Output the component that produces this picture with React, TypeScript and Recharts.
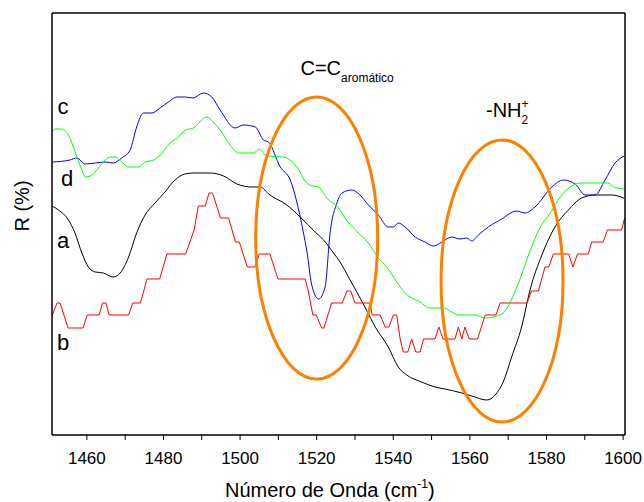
import { LineChart, Line, XAxis, YAxis, ReferenceDot } from "recharts";

// wavenumber (cm-1) and reflectance in arbitrary units
type Pt = { x: number; y: number };
const pts = (arr: number[][]): Pt[] => arr.map(([x, y]) => ({ x, y }));

const seriesA = pts([
  [1450.9, 229], [1452.6, 225], [1455.2, 215], [1456.9, 202], [1458.7, 182], [1460.4, 168],
  [1462.2, 163], [1464.3, 162], [1466.9, 158], [1468.7, 162], [1470.9, 178], [1473.0, 202],
  [1475.2, 220], [1477.8, 232], [1480.4, 243], [1483.0, 255], [1485.6, 261], [1487.8, 262],
  [1492.2, 262], [1495.7, 259], [1499.2, 251], [1503.1, 248], [1505.2, 248], [1507.8, 240],
  [1512.2, 230], [1515.7, 218], [1519.6, 203], [1521.8, 195], [1524.4, 182], [1526.1, 173],
  [1528.3, 158], [1532.6, 128], [1535.3, 108], [1538.7, 88], [1541.3, 68], [1543.5, 60],
  [1547.4, 53], [1550.9, 48], [1553.5, 46], [1557.9, 42], [1560.5, 39], [1564.4, 35],
  [1566.6, 40], [1568.7, 53], [1570.9, 78], [1573.5, 108], [1575.7, 145], [1578.8, 180],
  [1582.2, 208], [1585.7, 225], [1589.2, 237], [1592.7, 240], [1597.0, 240], [1600.2, 237],
]);

const seriesB = pts([
  [1451.0, 120], [1452.2, 132], [1453.0, 132], [1455.1, 107], [1459.0, 107], [1460.1, 120],
  [1463.2, 120], [1464.1, 132], [1465.0, 132], [1465.8, 120], [1470.9, 120], [1472.0, 132],
  [1474.0, 132], [1475.7, 156], [1479.0, 156], [1480.9, 181], [1485.8, 181], [1488.0, 205],
  [1489.1, 229], [1490.9, 229], [1491.9, 242], [1492.8, 242], [1494.9, 217], [1497.0, 217],
  [1498.8, 193], [1499.8, 193], [1501.9, 168], [1503.9, 168], [1505.0, 181], [1507.8, 181],
  [1509.9, 156], [1517.0, 156], [1517.8, 144], [1519.0, 120], [1519.9, 120], [1521.3, 107],
  [1521.9, 107], [1523.9, 132], [1526.7, 132], [1527.9, 144], [1528.9, 144], [1530.0, 132],
  [1533.9, 132], [1534.5, 120], [1536.6, 120], [1537.9, 108], [1538.9, 108], [1540.0, 120],
  [1540.9, 120], [1541.8, 96], [1542.6, 83], [1543.8, 83], [1544.8, 96], [1545.9, 83],
  [1547.0, 83], [1547.9, 96], [1550.9, 96], [1551.9, 108], [1553.0, 96], [1556.1, 96],
  [1557.0, 108], [1557.9, 96], [1558.7, 108], [1559.8, 96], [1562.0, 96], [1564.0, 120],
  [1566.8, 120], [1567.9, 132], [1574.9, 132], [1576.1, 144], [1577.9, 144], [1579.6, 168],
  [1580.6, 168], [1581.8, 181], [1585.8, 181], [1586.9, 168], [1588.1, 181], [1590.9, 181],
  [1591.8, 193], [1594.8, 193], [1595.9, 205], [1599.6, 205], [1600.4, 217],
]);

const seriesC = pts([
  [1451.0, 273], [1455.6, 275], [1457.4, 277], [1459.6, 271], [1462.2, 272], [1464.8, 273],
  [1466.9, 272], [1469.1, 277], [1471.3, 285], [1473.0, 308], [1474.8, 322], [1477.0, 322],
  [1479.1, 327], [1481.3, 333], [1483.5, 338], [1485.7, 338], [1487.7, 337], [1490.4, 342],
  [1492.6, 338], [1494.8, 325], [1498.7, 307], [1500.8, 310], [1504.0, 308], [1506.1, 295],
  [1507.4, 293], [1510.5, 268], [1513.1, 255], [1516.4, 205], [1517.6, 180], [1518.6, 152],
  [1520.5, 136], [1522.2, 148], [1523.5, 202], [1525.3, 232], [1526.6, 242], [1529.2, 245],
  [1531.3, 240], [1533.5, 230], [1536.1, 220], [1538.7, 208], [1540.0, 208], [1541.3, 212],
  [1543.1, 208], [1545.7, 198], [1548.3, 193], [1550.5, 189], [1552.7, 193], [1555.3, 198],
  [1557.4, 196], [1559.2, 197], [1560.5, 194], [1562.2, 200], [1564.8, 208], [1568.3, 216],
  [1572.2, 224], [1574.4, 222], [1577.0, 228], [1581.4, 248], [1584.4, 255], [1587.5, 251],
  [1590.1, 240], [1592.7, 240], [1595.3, 255], [1597.9, 272], [1600.3, 279],
]);

const seriesD = pts([
  [1451.0, 303], [1451.7, 306], [1453.5, 306], [1455.2, 300], [1456.5, 288], [1458.2, 270],
  [1459.7, 258], [1460.9, 259], [1463.0, 267], [1464.8, 275], [1466.1, 278], [1467.4, 278],
  [1469.1, 273], [1470.9, 268], [1473.5, 268], [1475.2, 273], [1477.4, 275], [1479.6, 282],
  [1481.7, 292], [1483.9, 298], [1485.7, 305], [1487.8, 307], [1491.3, 318], [1493.0, 313],
  [1494.8, 305], [1497.4, 290], [1499.6, 282], [1503.5, 282], [1505.1, 286], [1507.0, 279],
  [1511.3, 278], [1514.8, 268], [1517.4, 252], [1519.1, 249], [1520.5, 248], [1522.6, 237],
  [1525.7, 227], [1527.4, 217], [1530.9, 202], [1533.5, 192], [1536.1, 177], [1538.3, 168],
  [1540.9, 153], [1543.1, 142], [1544.8, 137], [1546.6, 134], [1549.6, 127], [1553.1, 127],
  [1555.3, 123], [1557.0, 120], [1561.4, 120], [1564.0, 117], [1568.3, 121], [1572.7, 152],
  [1575.3, 180], [1578.4, 208], [1581.0, 222], [1583.6, 238], [1586.6, 249], [1589.2, 252],
  [1596.1, 252], [1597.5, 248], [1600.3, 246],
]);

const xTicks = [1460, 1470, 1480, 1490, 1500, 1510, 1520, 1530, 1540, 1550, 1560, 1570, 1580, 1590, 1600];
// centres of the two highlighted bands
const bandX = [1520, 1568.4];
const bandY = [197, 154];

const FONT = "'Liberation Sans', Arial, sans-serif";

const Ellipse = (p: any) => (
  <ellipse cx={p.cx} cy={p.cy} rx={61} ry={141} fill="none" stroke="#FF8000" strokeWidth={3} />
);

const txt = (left: number, top: number, size: number): React.CSSProperties => ({
  position: "absolute",
  left,
  top,
  fontSize: size,
  lineHeight: 1,
  fontFamily: FONT,
  color: "#000",
  whiteSpace: "nowrap",
});

export default function App() {
  return (
    <div style={{ position: "absolute", left: 0, top: 0, width: 644, height: 502, background: "#fff" }}>
      <LineChart width={644} height={502} margin={{ top: 8, right: 14, left: 42, bottom: 37 }}>
        <XAxis
          xAxisId="b"
          type="number"
          dataKey="x"
          domain={[1450.9, 1600.5]}
          allowDataOverflow
          ticks={xTicks}
          interval={0}
          tickFormatter={(v) => (v % 20 === 0 ? String(v) : "")}
          height={30}
          tickSize={5}
          tickMargin={12}
          stroke="#000"
          axisLine={{ stroke: "#000", strokeWidth: 1.5 }}
          tickLine={{ stroke: "#000" }}
          tick={{ fill: "#000", fontSize: 17, fontFamily: FONT }}
        />
        <XAxis
          xAxisId="t"
          orientation="top"
          type="number"
          dataKey="x"
          domain={[1450.9, 1600.5]}
          allowDataOverflow
          ticks={xTicks}
          interval={0}
          tick={false}
          height={5}
          tickSize={2}
          stroke="#000"
          axisLine={{ stroke: "#000", strokeWidth: 1.5 }}
        />
        <YAxis
          yAxisId="l"
          type="number"
          domain={[0, 422]}
          allowDataOverflow
          tick={false}
          tickLine={false}
          width={10}
          axisLine={{ stroke: "#000", strokeWidth: 1.5 }}
        />
        <YAxis
          yAxisId="r"
          orientation="right"
          type="number"
          domain={[0, 422]}
          tick={false}
          tickLine={false}
          width={5}
          axisLine={{ stroke: "#000", strokeWidth: 1.5 }}
        />
        <Line xAxisId="b" yAxisId="l" data={seriesA} dataKey="y" type="monotone" stroke="#000000" strokeWidth={1} dot={false} isAnimationActive={false} />
        <Line xAxisId="b" yAxisId="l" data={seriesB} dataKey="y" type="linear" stroke="#FF0000" strokeWidth={1} dot={false} isAnimationActive={false} />
        <Line xAxisId="b" yAxisId="l" data={seriesC} dataKey="y" type="monotone" stroke="#0000FF" strokeWidth={1} dot={false} isAnimationActive={false} />
        <Line xAxisId="b" yAxisId="l" data={seriesD} dataKey="y" type="monotone" stroke="#00FF00" strokeWidth={1} dot={false} isAnimationActive={false} />
        {bandX.map((bx, i) => (
          <ReferenceDot key={i} xAxisId="b" yAxisId="l" x={bx} y={bandY[i]} r={1} shape={Ellipse} />
        ))}
      </LineChart>

      <div style={{ ...txt(21.7, 206, 20), transform: "translate(-50%, -50%) rotate(-90deg)" }}>R (%)</div>
      <div style={txt(225, 480.4, 20)}>
        Número de Onda (cm<span style={{ fontSize: 12, position: "relative", top: -9 }}>-1</span>)
      </div>

      <div style={txt(300.5, 58.1, 20)}>
        C=C<span style={{ fontSize: 12, position: "relative", top: 7 }}>aromático</span>
      </div>
      <div style={txt(486, 99.8, 20)}>-NH</div>
      <div style={txt(521.5, 113.8, 12)}>2</div>
      <div style={txt(521.5, 97.8, 12)}>+</div>

      <div style={txt(57.5, 96.4, 22)}>c</div>
      <div style={txt(61, 168.1, 22)}>d</div>
      <div style={txt(57, 230.4, 22)}>a</div>
      <div style={txt(57, 332.4, 22)}>b</div>
    </div>
  );
}
